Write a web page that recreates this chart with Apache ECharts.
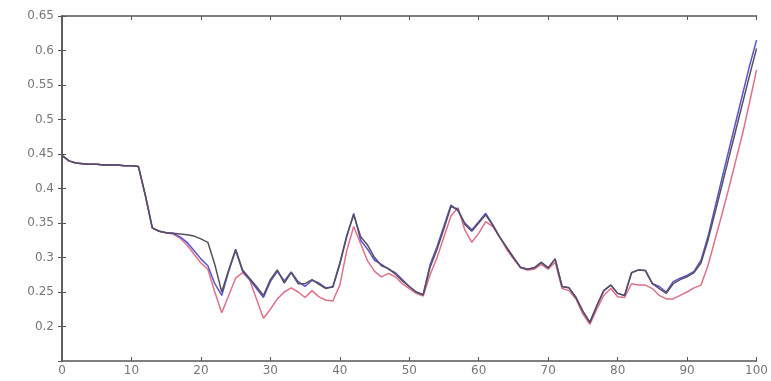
<!DOCTYPE html>
<html>
<head>
<meta charset="utf-8">
<script src="https://cdn.jsdelivr.net/npm/echarts@6/dist/echarts.min.js"></script>
<style>html,body{margin:0;padding:0;background:#fff;}#c{width:771px;height:381px;}</style>
</head>
<body>
<div id="c"></div>
<script>
var xValues = [];
for (var i = 0; i <= 100; i++) xValues.push(i);

var blueValues = [0.448,0.440,0.437,0.436,0.435,0.435,0.434,0.434,0.434,0.433,0.433,0.432,0.390,0.343,0.338,0.336,0.335,0.330,0.322,0.310,0.298,0.288,0.262,0.245,0.280,0.310,0.280,0.268,0.255,0.242,0.265,0.280,0.266,0.279,0.265,0.258,0.267,0.263,0.256,0.257,0.290,0.330,0.364,0.325,0.312,0.296,0.290,0.283,0.278,0.268,0.258,0.250,0.246,0.290,0.316,0.346,0.376,0.368,0.350,0.340,0.352,0.364,0.348,0.330,0.315,0.300,0.286,0.283,0.285,0.293,0.285,0.298,0.258,0.256,0.242,0.222,0.206,0.230,0.252,0.260,0.248,0.245,0.278,0.282,0.281,0.262,0.258,0.250,0.265,0.270,0.274,0.280,0.296,0.330,0.372,0.414,0.455,0.496,0.537,0.578,0.615];

var redValues = [0.448,0.440,0.437,0.436,0.435,0.435,0.434,0.434,0.434,0.433,0.433,0.432,0.390,0.343,0.338,0.336,0.334,0.328,0.318,0.305,0.292,0.283,0.250,0.220,0.245,0.270,0.278,0.268,0.240,0.212,0.225,0.240,0.250,0.256,0.250,0.242,0.252,0.243,0.238,0.237,0.260,0.310,0.345,0.320,0.295,0.280,0.272,0.277,0.272,0.262,0.255,0.248,0.244,0.275,0.300,0.330,0.360,0.372,0.340,0.322,0.335,0.352,0.345,0.330,0.312,0.298,0.285,0.282,0.283,0.290,0.283,0.293,0.255,0.252,0.240,0.218,0.203,0.225,0.245,0.255,0.243,0.242,0.262,0.260,0.260,0.255,0.245,0.240,0.240,0.245,0.250,0.256,0.260,0.288,0.325,0.362,0.400,0.440,0.480,0.525,0.572];

var blackValues = [0.448,0.440,0.437,0.436,0.435,0.435,0.434,0.434,0.434,0.433,0.433,0.432,0.390,0.343,0.338,0.336,0.335,0.334,0.333,0.331,0.327,0.322,0.290,0.250,0.282,0.312,0.282,0.270,0.258,0.245,0.268,0.282,0.263,0.278,0.262,0.262,0.268,0.261,0.255,0.258,0.292,0.332,0.362,0.330,0.318,0.300,0.288,0.284,0.276,0.266,0.258,0.250,0.246,0.286,0.312,0.342,0.374,0.370,0.348,0.338,0.350,0.362,0.347,0.330,0.315,0.300,0.286,0.283,0.285,0.293,0.285,0.298,0.258,0.256,0.242,0.222,0.206,0.230,0.252,0.260,0.248,0.245,0.278,0.282,0.281,0.262,0.255,0.248,0.262,0.268,0.272,0.278,0.292,0.325,0.364,0.404,0.444,0.484,0.524,0.564,0.603];

var yTickMin = 0.15, yTickMax = 0.65, yTickStep = 0.05;
var xTickMin = 0, xTickMax = 100, xTickStep = 10;

function pairs(vals){ return xValues.map(function(x,i){ return [x, vals[i]]; }); }

var axisColor = '#555';
var labelStyle = { color: '#777', fontSize: 12, fontFamily: 'DejaVu Sans, sans-serif' };
function baseX(pos, showLabel){
  return { type:'value', position: pos, min:xTickMin, max:xTickMax, interval:xTickStep,
    axisLine:{show:true, lineStyle:{color:axisColor, width:1.5}},
    axisTick:{show:true, inside:true, length:4, lineStyle:{color:axisColor}},
    axisLabel: showLabel ? Object.assign({show:true, margin:4}, labelStyle) : {show:false},
    splitLine:{show:false} };
}
function baseY(pos, showLabel){
  return { type:'value', position: pos, min:yTickMin, max:yTickMax, interval:yTickStep,
    axisLine:{show:true, lineStyle:{color:axisColor, width:1.5}},
    axisTick:{show:true, inside:true, length:4, lineStyle:{color:axisColor}},
    axisLabel: showLabel ? Object.assign({show:true, margin:8, showMinLabel:false,
      formatter:function(v){ return String(+v.toFixed(2)); }}, labelStyle) : {show:false},
    splitLine:{show:false} };
}

var chart = echarts.init(document.getElementById('c'), null, {renderer:'canvas'});
chart.setOption({
  animation:false,
  backgroundColor:'#fff',
  grid:{left:62, right:14, top:16, bottom:20},
  xAxis:[baseX('bottom', true), baseX('top', false)],
  yAxis:[baseY('left', true), baseY('right', false)],
  series:[
    {name:'red', type:'line', data:pairs(redValues), showSymbol:false, lineStyle:{color:'#e07088', width:1.5}, itemStyle:{color:'#e07088'}},
    {name:'blue', type:'line', data:pairs(blueValues), showSymbol:false, lineStyle:{color:'#5555d0', width:1.5}, itemStyle:{color:'#5555d0'}},
    {name:'black', type:'line', data:pairs(blackValues), showSymbol:false, lineStyle:{color:'#5a4e5e', width:1.5}, itemStyle:{color:'#5a4e5e'}}
  ]
});
</script>
</body>
</html>
